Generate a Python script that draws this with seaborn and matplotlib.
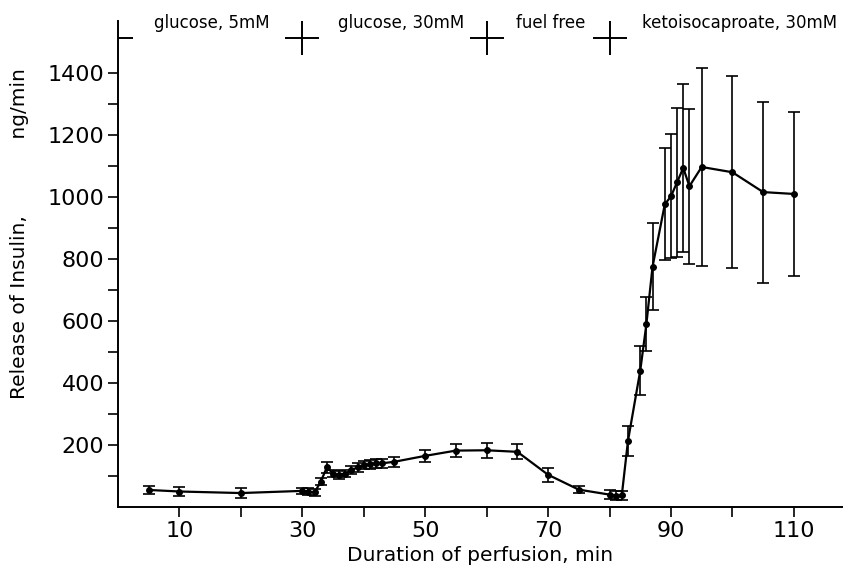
import matplotlib
matplotlib.use("Agg")
import matplotlib.pyplot as plt
from matplotlib.ticker import FixedLocator
import seaborn as sns
import pandas as pd

times = [5, 10, 20, 30, 31, 32, 33, 34, 35, 36, 37, 38, 39, 40, 41, 42, 43, 45,
         50, 55, 60, 65, 70, 75, 80, 81, 82, 83, 85, 86, 87, 89, 90, 91, 92, 93,
         95, 100, 105, 110]
insulin = [55, 50, 45, 52, 50, 47, 82, 128, 108, 103, 108, 119, 128, 135, 138, 141, 141, 146,
           165, 182, 183, 178, 104, 56, 40, 36, 38, 213, 440, 590, 775, 977, 1002, 1048, 1094, 1035,
           1097, 1080, 1016, 1010]
sem = [12, 15, 15, 10, 10, 10, 12, 18, 12, 12, 12, 12, 14, 14, 15, 15, 15, 16,
       20, 22, 24, 24, 22, 12, 15, 15, 15, 48, 80, 88, 140, 180, 200, 240, 272, 250,
       320, 310, 292, 265]

phase_labels = ["glucose, 5mM", "glucose, 30mM", "fuel free", "ketoisocaproate, 30mM"]
phase_label_x = [15.2, 46.1, 70.5, 101.1]
boundaries = [0, 30, 60, 80]

df = pd.DataFrame({"time": times, "insulin": insulin, "sem": sem})

sns.set_style("ticks")
plt.rcParams["font.family"] = ["DejaVu Sans"]
plt.rcParams["text.color"] = "black"
plt.rcParams["axes.labelcolor"] = "black"
plt.rcParams["xtick.color"] = "black"
plt.rcParams["ytick.color"] = "black"

fig = plt.figure(figsize=(8.43, 5.79), dpi=100)
ax = fig.add_axes([118 / 843, 72 / 579, 725 / 843, 486 / 579])

ax.errorbar(df["time"], df["insulin"], yerr=df["sem"], fmt="none", ecolor="black",
            elinewidth=1.2, capsize=4, capthick=1.2, zorder=2)
sns.lineplot(data=df, x="time", y="insulin", ax=ax, color="black", linewidth=1.6,
             marker="o", markersize=4.2, markeredgecolor="black", zorder=3)

ax.set_xlim(0, 118)
ax.set_ylim(0, 1568)

# phase boundary markers
ax.plot(boundaries[1:], [1513] * 3, linestyle="none", marker="+", markersize=24,
        markeredgewidth=1.4, color="black", clip_on=False)
ax.plot([boundaries[0]], [1513], linestyle="none", marker=1, markersize=11,
        markeredgewidth=1.4, color="black", clip_on=False)
for lx, lab in zip(phase_label_x, phase_labels):
    ax.text(lx, 1561, lab, ha="center", va="center", fontsize=12, clip_on=False)

ax.xaxis.set_major_locator(FixedLocator([10, 30, 50, 70, 90, 110]))
ax.xaxis.set_minor_locator(FixedLocator([20, 40, 60, 80, 100]))
ax.yaxis.set_major_locator(FixedLocator([200, 400, 600, 800, 1000, 1200, 1400]))
ax.yaxis.set_minor_locator(FixedLocator([100, 300, 500, 700, 900, 1100, 1300]))
ax.tick_params(axis="both", which="both", direction="out", length=7, width=1.2, color="black")
ax.tick_params(axis="both", which="major", labelsize=16, pad=3)

ax.set_xlabel("Duration of perfusion, min", fontsize=14.5, labelpad=4)
ax.set_ylabel("")
fig.text(20 / 843, 1 - 234 / 579, "Release of Insulin," + " " * 12 + "ng/min",
         rotation=90, ha="center", va="center", fontsize=14.5)

sns.despine(ax=ax)
for s in ["left", "bottom"]:
    ax.spines[s].set_linewidth(1.4)
    ax.spines[s].set_color("black")

fig.savefig("out.png", dpi=100)
